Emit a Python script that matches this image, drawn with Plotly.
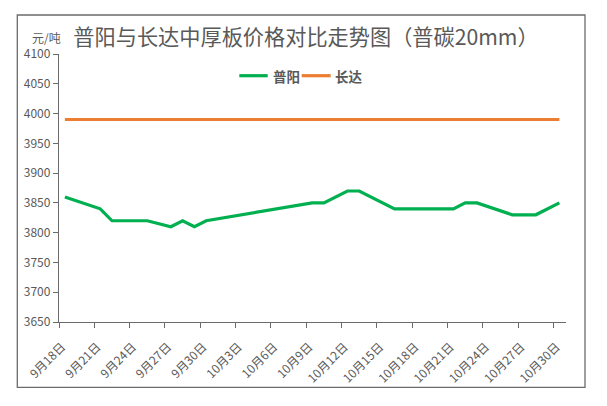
import plotly.graph_objects as go
from datetime import datetime, timedelta

# ---------------- data ----------------
puyang_dates = ["2020-09-18", "2020-09-21", "2020-09-22", "2020-09-25", "2020-09-27",
                "2020-09-28", "2020-09-29", "2020-09-30", "2020-10-09", "2020-10-10",
                "2020-10-12", "2020-10-13", "2020-10-16", "2020-10-21", "2020-10-22",
                "2020-10-23", "2020-10-26", "2020-10-28", "2020-10-30"]
puyang_values = [3860, 3840, 3820, 3820, 3810,
                 3820, 3810, 3820, 3850, 3850,
                 3870, 3870, 3840, 3840, 3850,
                 3850, 3830, 3830, 3850]

changda_dates = ["2020-09-18", "2020-10-30"]
changda_values = [3990, 3990]

tick_dates = ["2020-09-18", "2020-09-21", "2020-09-24", "2020-09-27", "2020-09-30",
              "2020-10-03", "2020-10-06", "2020-10-09", "2020-10-12", "2020-10-15",
              "2020-10-18", "2020-10-21", "2020-10-24", "2020-10-27", "2020-10-30"]
tick_labels = ["9月18日", "9月21日", "9月24日", "9月27日", "9月30日",
               "10月3日", "10月6日", "10月9日", "10月12日", "10月15日",
               "10月18日", "10月21日", "10月24日", "10月27日", "10月30日"]

y_ticks = [3650, 3700, 3750, 3800, 3850, 3900, 3950, 4000, 4050, 4100]

title_text = "普阳与长达中厚板价格对比走势图（普碳20mm）"
unit_text = "元/吨"
series_names = ["普阳", "长达"]
series_colors = ["#00B050", "#ED7D31"]

# ---------------- styling ----------------
W, H = 607, 406
L, R, T, B = 59, 41, 54, 84
FONT = "Noto Sans CJK SC"
TXT = "#595959"
AX = "#6b6b6b"

pw = W - L - R
ph = H - T - B


def px_x(x):
    return (x - L) / pw


def px_y(y):
    return (H - B - y) / ph


# Excel-style date axis: tick marks sit at the start of each day bin
tick_vals = [(datetime.fromisoformat(d) - timedelta(hours=12)).isoformat() for d in tick_dates]
x_start = (datetime.fromisoformat(tick_dates[0]) - timedelta(hours=12)).isoformat()
x_end = (datetime.fromisoformat(tick_dates[-1]) + timedelta(hours=13, minutes=30)).isoformat()

fig = go.Figure()
fig.add_trace(go.Scatter(x=puyang_dates, y=puyang_values, mode="lines", name=series_names[0],
                         line=dict(color=series_colors[0], width=3.2)))
fig.add_trace(go.Scatter(x=changda_dates, y=changda_values, mode="lines", name=series_names[1],
                         line=dict(color=series_colors[1], width=3.2)))

fig.update_layout(
    width=W, height=H,
    margin=dict(l=L, r=R, t=T, b=B, autoexpand=False),
    paper_bgcolor="white", plot_bgcolor="white",
    font=dict(family=FONT, color=TXT, size=12),
    title=dict(text=title_text, x=306 / W, xref="container", xanchor="center",
               y=1 - 37.5 / H, yref="container", yanchor="middle",
               font=dict(family=FONT, size=21.2, color=TXT)),
    showlegend=False,
    xaxis=dict(type="date", range=[x_start, x_end], tickvals=tick_vals, ticktext=tick_labels,
               tickangle=-45, showgrid=False, zeroline=False, showline=True, linecolor=AX,
               linewidth=1.3, ticks="outside", ticklen=5, tickcolor=AX, automargin=False,
               ticklabelstandoff=7, ticklabelshift=3,
               tickfont=dict(family=FONT, size=12, color=TXT)),
    yaxis=dict(range=[3650, 4100], tickvals=y_ticks, showgrid=False, zeroline=False,
               showline=True, linecolor=AX, linewidth=1.3, ticks="outside", ticklen=5,
               tickcolor=AX, automargin=False, tickfont=dict(family=FONT, size=12, color=TXT)),
)

# legend drawn as line samples + labels
legend_items = [(239.3, 267.7, 271), (301.7, 330.7, 333)]
for (x0, x1, tx), name, col in zip(legend_items, series_names, series_colors):
    fig.add_shape(type="line", xref="paper", yref="paper", x0=px_x(x0), x1=px_x(x1),
                  y0=px_y(75.7), y1=px_y(75.7), line=dict(color=col, width=3.2))
    fig.add_annotation(text="<b>%s</b>" % name, xref="paper", yref="paper", x=px_x(tx),
                       y=px_y(75.7), xanchor="left", yanchor="middle", showarrow=False,
                       font=dict(family=FONT, size=13.5, color=TXT))

fig.add_annotation(text=unit_text, xref="paper", yref="paper", x=px_x(46.5), y=px_y(37.3),
                   xanchor="center", yanchor="middle", showarrow=False,
                   font=dict(family=FONT, size=12, color=TXT))

fig.add_shape(type="rect", xref="paper", yref="paper",
              x0=px_x(17.3), x1=px_x(585), y0=px_y(387.3), y1=px_y(15),
              line=dict(color=AX, width=1.3), fillcolor="rgba(0,0,0,0)", layer="below")

fig.write_html("out.html", config={"displayModeBar": False},
               post_script="document.body.style.margin='0';")
